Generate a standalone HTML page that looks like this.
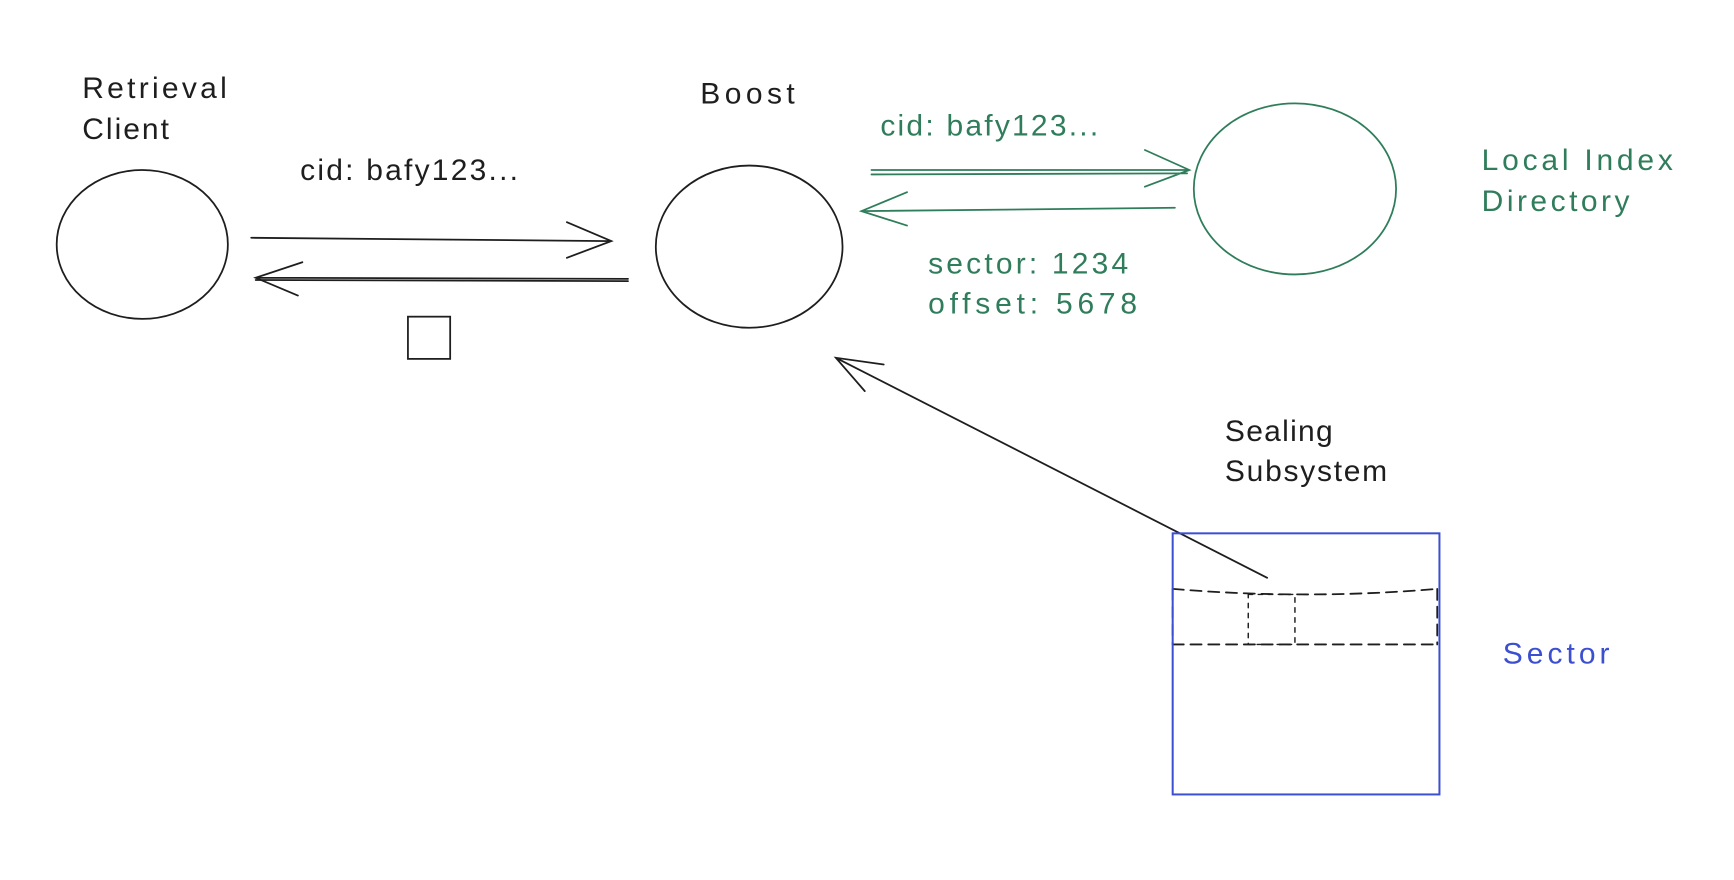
<!DOCTYPE html>
<html><head><meta charset="utf-8"><style>
html,body{margin:0;padding:0;background:#fff;}
svg{display:block}
text{font-family:"Liberation Sans",sans-serif;font-size:27px;}
</style></head><body>
<svg width="1734" height="880" viewBox="0 0 1560 792" preserveAspectRatio="none" xmlns="http://www.w3.org/2000/svg">
<rect width="1560" height="792" fill="#fff"/>
<g fill="none" stroke="#1e1e1e" stroke-width="1.6" stroke-linecap="round">
<ellipse cx="128" cy="220" rx="77" ry="67"/>
<ellipse cx="674" cy="222" rx="84" ry="73"/>
<path d="M226 214 L550 217 M510 200 L550 217 L510 232"/>
<path d="M565 251 L230 250 M272 236 L230 250 L268 266"/>
<path d="M230 252 L565 253"/>
<rect x="367" y="285" width="38" height="38"/>
<path d="M1140 520 L752 322 M795 328 L752 322 L778 352"/>
<path d="M1055 530 Q1175 540 1293 530" stroke-dasharray="10 6"/>
<path d="M1055 580 L1295 580" stroke-dasharray="10 6"/>
<path d="M1055 530 L1055 580 M1293 530 L1293 580" stroke-dasharray="10 6"/>
<rect x="1123" y="535" width="42" height="45" stroke-dasharray="4 5" stroke-width="1.3"/>
</g>
<g fill="none" stroke="#2f7d5b" stroke-width="1.6" stroke-linecap="round">
<ellipse cx="1165" cy="170" rx="91" ry="77"/>
<path d="M784 153 L1070 153 M784 157 L1068 156 M1030 135 L1070 153 L1030 168"/>
<path d="M1057 187 L775 190 M816 173 L775 190 L816 203"/>
</g>
<rect x="1055" y="480" width="240" height="235" fill="none" stroke="#3b4fd0" stroke-width="1.8"/>
<g fill="#1e1e1e">
<text x="74" y="88" textLength="130">Retrieval</text>
<text x="74" y="125" textLength="78">Client</text>
<text x="630" y="93" textLength="85">Boost</text>
<text x="270" y="162" textLength="196">cid: bafy123...</text>
<text x="1102" y="397" textLength="97">Sealing</text>
<text x="1102" y="433" textLength="146">Subsystem</text>
</g>
<g fill="#2f7d5b">
<text x="792" y="122" textLength="196">cid: bafy123...</text>
<text x="835" y="246" textLength="180">sector: 1234</text>
<text x="835" y="282" textLength="188">offset: 5678</text>
<text x="1333" y="153" textLength="172">Local Index</text>
<text x="1333" y="190" textLength="133">Directory</text>
</g>
<text x="1352" y="597" textLength="96" fill="#3b4fd0">Sector</text>
</svg>
</body></html>
